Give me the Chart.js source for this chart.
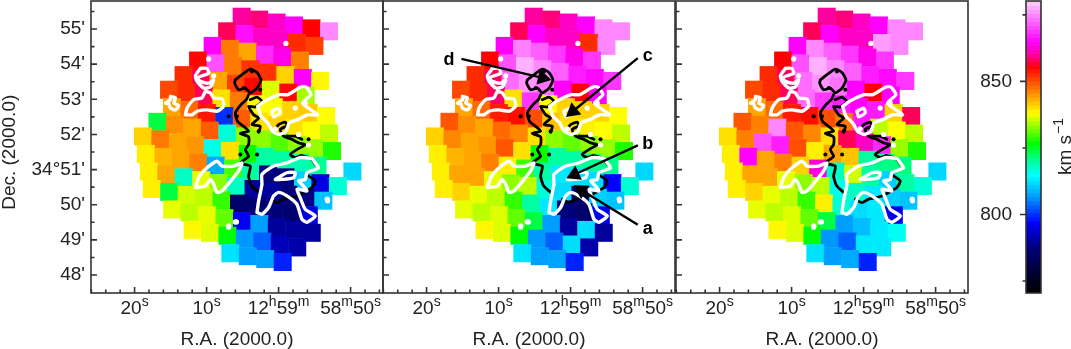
<!DOCTYPE html>
<html>
<head>
<meta charset="utf-8">
<script src="https://cdn.jsdelivr.net/npm/chart.js@4"></script>
<style>
html, body { margin: 0; padding: 0; background: #fff; overflow: hidden; }
canvas { position: absolute; top: 0; }
</style>
</head>
<body>
<canvas id="panel1" style="left:0px"></canvas>
<canvas id="panel2" style="left:375px"></canvas>
<canvas id="panel3" style="left:668px"></canvas>
<canvas id="colorbar" style="left:972px"></canvas>
<script>
var n = null;

// velocity maps, km/s. rows follow the tilted grid, columns run from -7 to 5
var gridColumnStart = -7;
var velocityMap1 = [
    [n,n,n,n,n,n,n,860,859,862,865,855.5,875],
    [n,n,n,n,n,n,858,866,862,862,852.5,851,n],
    [n,n,n,n,n,865,847,844,868,864,846.5,n,n],
    [n,n,n,n,855,871,847,852,852,841,865,838.5,n],
    [n,n,n,852.5,858,844,851,855,836.5,855,834,n,n],
    [n,n,850.5,852.5,858,840,847,838,838,841,841.5,838,n],
    [n,n,844,848,854,800,849,840,841,840,838,835,n],
    [n,824,845.5,844,849,817,833,833,830.5,833,833.5,828,n],
    [841,847,844,845,816,840,827,820,820,819,820.5,n,811.5],
    [839,843,844,846.5,808,830,820,788,787,811,795,817,n],
    [839,844,818,837,833,818,790,790,787,788,810,n,n],
    [839,824,836,835,829,785,786,787,786,795,n,n,n],
    [n,837,835,837,831,796,807,790,790,790,n,n,n],
    [n,n,838.5,836.5,826.5,806.5,803,792,791,n,n,n,n],
    [n,n,n,n,812.5,807,807.5,799,n,n,n,n,n]
];
var velocityMap2 = [
    [n,n,n,n,n,n,n,860,859,862,865,875,875],
    [n,n,n,n,n,n,858,865,862,862,852.5,875,n],
    [n,n,n,n,n,865,874.5,872,869,864,869,n,n],
    [n,n,n,n,855.5,871,878,875,872,867,865.5,869,n],
    [n,n,n,852.5,858,873,876,873.5,865,855.5,865,n,n],
    [n,n,850.5,852.5,858,840,869,838,841,841,841,838,n],
    [n,n,844,848,853.5,854.5,850,842,840,839,838,835,n],
    [n,849.5,845.5,844,848,846,840,833,831,833,833.5,828,n],
    [841,846,844,845,849.5,840,827,820,820,820.5,821,n,811.5],
    [839,843,844,846.5,839,829.5,820,813,812,812,797,817,n],
    [839,844,844,837,833,835,817,812,785,811,810,n,n],
    [839,841,837,835,829,820,813,787,785,796,n,n,n],
    [n,837,835,836.5,831,824,807,790,812,790,n,n,n],
    [n,n,838.5,836.5,826.5,806.5,803,812,791,n,n,n,n],
    [n,n,n,n,812.5,807,807.5,799,n,n,n,n,n]
];
var velocityMap3 = [
    [n,n,n,n,n,n,n,860,859,862,865,875,875],
    [n,n,n,n,n,n,858,865,862,862,876.5,875,n],
    [n,n,n,n,n,865,875,872,869,864,869,n,n],
    [n,n,n,n,855.5,871,878,875,872,867,865.5,869,n],
    [n,n,n,852.5,858,873,876,873.5,865,855.5,865,n,n],
    [n,n,850.5,852.5,858,873,869,867,865,867,841,858,n],
    [n,n,844,848,853.5,854.5,850,847,867,835,838,835,n],
    [n,849.5,846.5,875,849.5,846,840,858,862,868,833.5,828,n],
    [840,846.5,871,867,850,839,844,842,820,821,821.5,n,811.5],
    [839,865,844,846.5,841,863,818,836,820,811,820,817,n],
    [839,844,844,837,833,835,816,818,813,811,810,n,n],
    [839,841,837,835,829,839,817,812,813,796,n,n,n],
    [n,837,835,836.5,831,824,807,809.5,813,815.5,n,n,n],
    [n,n,838.5,836.5,826.5,806.5,803,813,813,n,n,n,n],
    [n,n,n,n,812.5,807,808,799,n,n,n,n,n]
];

// contours as [RA seconds from 12h59m, Dec arcmin from 34d]
var whiteContours = [
    [[10.86,53.88],[9.94,53.88],[9.71,53.74],[10.63,53.67],[11.32,53.60],[10.86,53.51],[9.71,53.46],[9.01,53.55],[9.48,53.35],[10.40,53.32],[11.32,53.51],[11.55,53.67],[10.86,53.88]],
    [[15.02,53.08],[14.33,53.04],[14.56,52.89],[13.87,52.82],[14.33,52.70],[15.02,52.75],[15.25,52.87],[15.72,52.89],[15.02,52.99],[15.02,53.08]],
    [[12.94,52.56],[12.71,52.75],[11.79,52.99],[10.63,53.04],[10.17,53.22],[9.48,53.18],[9.01,53.04],[7.86,53.01],[7.63,52.80],[8.55,52.66],[9.94,52.70],[11.32,52.66],[12.02,52.56],[12.94,52.56]],
    [[2.91,52.80],[1.99,52.94],[-0.09,53.13],[-1.25,53.13],[-1.71,53.18],[-3.10,53.35],[-3.79,53.35],[-4.49,53.13],[-3.33,52.89],[-5.41,52.56],[-4.02,52.56],[-2.64,52.42],[-1.48,52.33],[-1.02,52.09],[-0.09,52.00],[0.83,52.09],[1.52,52.33],[2.45,52.52],[2.91,52.80]],
    [[0.92,52.66],[0.0,52.75],[-0.23,52.61],[0.69,52.50],[0.92,52.66]],
    [[11.55,50.49],[11.09,50.77],[10.17,51.01],[8.55,51.24],[7.86,51.10],[6.24,51.10],[5.08,51.19],[5.55,50.96],[6.47,50.72],[7.86,50.39],[8.55,50.35],[9.01,50.58],[9.48,50.72],[10.17,50.53],[11.55,50.49]],
    [[3.00,49.78],[2.77,50.11],[2.31,50.58],[2.31,50.86],[0.69,51.10],[-1.16,51.19],[-3.01,51.34],[-4.63,51.31],[-5.09,51.19],[-5.55,51.05],[-3.93,50.91],[-3.70,50.72],[-2.78,50.68],[-3.47,50.53],[-3.93,50.39],[-2.55,50.44],[-3.01,50.20],[-3.70,49.87],[-5.09,49.68],[-3.93,49.50],[-3.24,49.59],[-2.55,50.01],[-1.16,50.25],[0.0,50.35],[0.69,50.25],[1.39,49.92],[2.31,49.73],[3.00,49.78]],
    [[0.46,50.72],[-1.16,50.91],[-2.31,50.91],[-2.08,50.77],[-0.46,50.72],[0.46,50.72]]
];
var whiteSpecks = [[9.71,54.15],[9.01,53.67],[-1.02,54.59],[-2.31,52.75],[-3.70,52.89],[-2.78,52.0],[-4.16,51.70],[6.93,49.40],[6.93,49.36],[6.01,49.51],[5.85,49.51],[-6.80,50.11],[-6.75,50.16],[0.46,52.16]];
var blackContours = [
    [[6.01,53.55],[5.08,53.70],[3.93,53.86],[3.00,53.76],[2.45,53.55],[3.00,53.32],[3.93,53.18],[4.62,53.32],[5.55,53.27],[6.10,53.46],[6.01,53.55]],
    [[4.16,53.13],[4.48,52.99],[5.22,52.85],[6.01,52.61],[5.68,52.37],[4.85,52.23],[4.16,52.09],[5.31,52.03],[4.16,51.93],[4.16,51.71],[4.62,51.57],[4.16,51.38],[5.31,51.19],[3.93,51.10],[4.16,50.82],[3.93,50.63],[3.70,50.53],[2.77,50.35]],
    [[3.93,52.99],[3.00,53.06],[2.31,52.94],[3.23,52.78],[4.16,52.80],[3.47,52.56],[2.77,52.47],[3.70,52.28],[2.54,52.23],[2.77,52.06]],
    [[0.69,52.09],[0.0,52.28],[-0.93,52.35],[-1.16,52.25],[-0.23,52.14],[-0.70,51.95],[-1.85,51.86],[-2.78,51.76],[-3.70,51.71],[-2.55,51.57],[-1.62,51.43],[-2.31,51.34],[-3.24,51.40],[-4.62,51.29],[-5.09,51.15]],
    [[-1.16,51.95],[-2.31,51.95],[-3.24,51.86]],
    [[1.15,50.16],[0.23,50.06],[-0.70,50.16],[-2.55,50.25],[-4.62,50.49],[-5.09,50.68],[-4.16,50.82]]
];
var blackSpecks = [[6.93,52.52],[5.78,52.52],[4.85,53.32],[2.54,53.27],[3.70,53.79],[5.31,51.43],[2.99,51.43],[2.77,52.09],[-4.16,51.86]];

// arrows of the middle panel
var arrowLabels = ["a", "b", "c", "d"];
var arrowTailRa = [-9.33, -9.33, -9.33, 15.16];
var arrowTailDec = [49.43, 51.69, 54.17, 54.15];
var arrowTipRa = [-1.49, -0.55, -0.32, 3.88];
var arrowTipDec = [50.42, 50.86, 52.66, 53.61];
var arrowLabelRa = [-10.7, -10.7, -10.7, 16.88];
var arrowLabelDec = [49.30, 51.73, 54.22, 54.12];

// axes, ^x means x is raised
var raTickValues = [26,24,22,20,18,16,14,12,10,8,6,4,2,0,-2,-4,-6,-8,-10,-12,-14];
var raMajorValues = [20, 10, 0, -10];
var raMajorLabels = ["20^s", "10^s", "12^h59^m", "58^m50^s"];
var decTickValues = [48,48.5,49,49.5,50,50.5,51,51.5,52,52.5,53,53.5,54,54.5,55,55.5];
var decMajorValues = [48,49,50,51,52,53,54,55];
var decMajorLabels = ["48'", "49'", "50'", "34°51'", "52'", "53'", "54'", "55'"];
var barTickValues = [775, 800, 825, 850, 875];
var barMajorValues = [800, 850];

// colour table of the wedge
var cmapValues = [770.5, 780, 788, 797, 806.6, 814.7, 820, 826.7, 838, 846.5, 855.5, 860, 865, 875.7, 880.2];
var cmapColors = [[0,0,0],[0,0,64],[0,0,128],[0,0,255],[0,153,255],[0,255,255],[0,255,160],[0,255,0],[255,255,0],[255,128,0],[255,0,0],[255,0,160],[255,0,255],[255,144,255],[255,208,255]];

var raMin = -14.5, raMax = 26.05;
var decMin = 47.488, decMax = 55.797;
var gridRa0 = 5.125, gridDec0 = 55.35;
var gridRaStepI = -2.424, gridDecStepI = -0.0831;
var gridRaStepJ = -0.407, gridDecStepJ = -0.4986;
var textColor = "#222";
var axisFont = { family: "'Liberation Sans'", size: 19, lineHeight: 1 };

function velocityColor(v) {
    var k = 0;
    while (k < cmapValues.length - 2 && v > cmapValues[k + 1]) k++;
    var f = (v - cmapValues[k]) / (cmapValues[k + 1] - cmapValues[k]);
    f = Math.max(0, Math.min(1, f));
    var a = cmapColors[k], b = cmapColors[k + 1];
    return "rgb(" + Math.round(a[0] + (b[0] - a[0]) * f) + "," + Math.round(a[1] + (b[1] - a[1]) * f) + "," + Math.round(a[2] + (b[2] - a[2]) * f) + ")";
}

function mapCells(map) {
    var cells = [];
    map.forEach(function (row, j) {
        row.forEach(function (v, c) {
            if (v === null) return;
            var i = c + gridColumnStart;
            cells.push({
                x: gridRa0 + gridRaStepI * i + gridRaStepJ * j,
                y: gridDec0 + gridDecStepI * i + gridDecStepJ * j,
                v: v
            });
        });
    });
    return cells;
}

function toPoints(list) {
    return list.map(function (p) { return { x: p[0], y: p[1] }; });
}

// chart area has to stay where the original box is, labels may overhang
function clearScalePadding(s) {
    s.paddingLeft = 0;
    s.paddingRight = 0;
    s.paddingTop = 0;
    s.paddingBottom = 0;
}

// box and inward ticks, the way the original plot has them
var framePlugin = {
    id: "frame",
    afterDatasetsDraw: function (chart) {
        var ctx = chart.ctx, a = chart.chartArea;
        ctx.save();
        ctx.strokeStyle = "#333";
        ctx.lineWidth = 1.6;
        ctx.strokeRect(a.left, a.top, a.right - a.left, a.bottom - a.top);
        ctx.beginPath();
        var bar = chart.canvas.id === "colorbar";
        chart.scales.y.ticks.forEach(function (t) {
            var py = chart.scales.y.getPixelForValue(t.value);
            var major = bar ? barMajorValues.indexOf(t.value) >= 0 : decMajorValues.indexOf(t.value) >= 0;
            var len = major ? 6 : 3.5;
            ctx.moveTo(a.left, py);
            ctx.lineTo(a.left + (bar ? -len : len), py);
        });
        if (!bar) {
            chart.scales.x.ticks.forEach(function (t) {
                var px = chart.scales.x.getPixelForValue(t.value);
                ctx.moveTo(px, a.bottom);
                ctx.lineTo(px, a.bottom - (raMajorValues.indexOf(t.value) >= 0 ? 6 : 3.5));
            });
        }
        ctx.stroke();
        ctx.restore();
    }
};

// RA labels need raised letters, which a tick label can't do
var raLabelPlugin = {
    id: "raLabels",
    afterDraw: function (chart) {
        if (chart.canvas.id === "colorbar") return;
        var ctx = chart.ctx;
        ctx.save();
        ctx.fillStyle = textColor;
        ctx.textBaseline = "alphabetic";
        ctx.textAlign = "left";
        raMajorValues.forEach(function (v, k) {
            var parts = [], text = raMajorLabels[k], width = 0;
            for (var p = 0; p < text.length; p++) {
                if (text[p] === "^") {
                    parts.push({ s: text[p + 1], up: true });
                    p++;
                } else if (parts.length && !parts[parts.length - 1].up) {
                    parts[parts.length - 1].s += text[p];
                } else {
                    parts.push({ s: text[p], up: false });
                }
            }
            parts.forEach(function (part) {
                ctx.font = (part.up ? 14 : 19) + "px 'Liberation Sans'";
                width += ctx.measureText(part.s).width;
            });
            var x = chart.scales.x.getPixelForValue(v) - width / 2;
            parts.forEach(function (part) {
                ctx.font = (part.up ? 14 : 19) + "px 'Liberation Sans'";
                ctx.fillText(part.s, x, part.up ? 306 : 314);
                x += ctx.measureText(part.s).width;
            });
        });
        ctx.restore();
    }
};

var arrowLabelPlugin = {
    id: "arrowLabels",
    afterDatasetsDraw: function (chart) {
        if (chart.canvas.id !== "panel2") return;
        var ctx = chart.ctx;
        ctx.save();
        ctx.fillStyle = "#000";
        ctx.font = "bold 18px 'Liberation Sans'";
        ctx.textAlign = "center";
        ctx.textBaseline = "middle";
        arrowLabels.forEach(function (s, k) {
            ctx.fillText(s, chart.scales.x.getPixelForValue(arrowLabelRa[k]), chart.scales.y.getPixelForValue(arrowLabelDec[k]));
        });
        ctx.restore();
    }
};

var unitLabelPlugin = {
    id: "unitLabel",
    afterDraw: function (chart) {
        if (chart.canvas.id !== "colorbar") return;
        var ctx = chart.ctx;
        ctx.save();
        ctx.translate(1071 - 972, 175);
        ctx.rotate(-Math.PI / 2);
        ctx.fillStyle = textColor;
        ctx.textAlign = "left";
        ctx.textBaseline = "alphabetic";
        ctx.font = "19px 'Liberation Sans'";
        ctx.fillText("km s", 0, 0);
        var w = ctx.measureText("km s").width;
        ctx.font = "14px 'Liberation Sans'";
        ctx.fillText("−1", w + 1, -8);
        ctx.restore();
    }
};

function arrowAngle(ctx) {
    var pts = ctx.dataset.data;
    var sx = ctx.chart.scales.x, sy = ctx.chart.scales.y;
    var dx = sx.getPixelForValue(pts[1].x) - sx.getPixelForValue(pts[0].x);
    var dy = sy.getPixelForValue(pts[1].y) - sy.getPixelForValue(pts[0].y);
    return Math.atan2(dx, -dy) * 180 / Math.PI;
}

function displayPanel(canvasID, map, width, leftSpace, isFirst, withArrows) {
    var canvas = document.getElementById(canvasID);
    canvas.width = width;
    canvas.height = 349;
    var datasets = [];

    if (withArrows) {
        arrowLabels.forEach(function (s, k) {
            datasets.push({
                data: [{ x: arrowTailRa[k], y: arrowTailDec[k] }, { x: arrowTipRa[k], y: arrowTipDec[k] }],
                showLine: true,
                borderColor: "#000",
                borderWidth: 2.4,
                pointRadius: [0, 9],
                pointStyle: "triangle",
                pointRotation: arrowAngle,
                pointBackgroundColor: "#000",
                pointBorderWidth: 0
            });
        });
    }
    datasets.push({ data: toPoints(whiteSpecks), pointRadius: 2.6, pointBackgroundColor: "#fff", pointBorderWidth: 0 });
    whiteContours.forEach(function (c) {
        datasets.push({ data: toPoints(c), showLine: true, borderColor: "#fff", borderWidth: 3.4, tension: 0.2, pointRadius: 0, borderJoinStyle: "round", borderCapStyle: "round" });
    });
    datasets.push({ data: toPoints(blackSpecks), pointRadius: 2, pointBackgroundColor: "#000", pointBorderWidth: 0 });
    blackContours.forEach(function (c) {
        datasets.push({ data: toPoints(c), showLine: true, borderColor: "#000", borderWidth: 2.8, tension: 0.2, pointRadius: 0, borderJoinStyle: "round", borderCapStyle: "round" });
    });
    // side of a rect point is radius * sqrt(2)
    datasets.push({
        data: mapCells(map),
        pointStyle: "rect",
        pointRadius: 18 / Math.SQRT2,
        pointBorderWidth: 0,
        pointBackgroundColor: function (ctx) {
            return ctx.raw ? velocityColor(ctx.raw.v) : "#fff";
        }
    });

    return new Chart(canvas, {
        type: "scatter",
        data: { datasets: datasets },
        plugins: [framePlugin, arrowLabelPlugin, raLabelPlugin],
        options: {
            responsive: false,
            animation: false,
            layout: { autoPadding: false, padding: { top: 1, right: width - leftSpace - 292, bottom: 0, left: 0 } },
            plugins: { legend: { display: false }, tooltip: { enabled: false } },
            scales: {
                x: {
                    type: "linear",
                    reverse: true,
                    min: raMin,
                    max: raMax,
                    afterBuildTicks: function (s) {
                        s.ticks = raTickValues.map(function (v) { return { value: v }; });
                    },
                    afterFit: function (s) { s.height = 56; clearScalePadding(s); },
                    grid: { display: false, drawTicks: false },
                    border: { display: false },
                    title: { display: true, text: "R.A. (2000.0)", color: textColor, font: axisFont, padding: 0 },
                    ticks: { display: false }
                },
                y: {
                    type: "linear",
                    min: decMin,
                    max: decMax,
                    afterBuildTicks: function (s) {
                        s.ticks = decTickValues.map(function (v) { return { value: v }; });
                    },
                    afterFit: function (s) { s.width = leftSpace; clearScalePadding(s); },
                    grid: { display: false, drawTicks: false },
                    border: { display: false },
                    title: { display: isFirst, text: "Dec. (2000.0)  ", color: textColor, font: axisFont, padding: 0 },
                    ticks: {
                        display: isFirst,
                        autoSkip: false,
                        padding: 6,
                        color: textColor,
                        font: axisFont,
                        callback: function (v) {
                            var k = decMajorValues.indexOf(v);
                            return k >= 0 ? decMajorLabels[k] : "";
                        }
                    }
                }
            }
        }
    });
}

function displayColorbar() {
    var canvas = document.getElementById("colorbar");
    canvas.width = 99;
    canvas.height = 349;
    var bands = [];
    // wedge steps are about 1.5 km/s in the original
    for (var v = 770.5; v < 880.2; v += 1.5) {
        bands.push({ x: 0, y: [v, v + 1.5] });
    }
    return new Chart(canvas, {
        type: "bar",
        data: {
            datasets: [{
                data: bands,
                barThickness: 15,
                backgroundColor: bands.map(function (b) { return velocityColor(b.y[0] + 0.75); })
            }]
        },
        plugins: [framePlugin, unitLabelPlugin],
        options: {
            responsive: false,
            animation: false,
            layout: { padding: { top: 1, right: 30, bottom: 56, left: 0 } },
            plugins: { legend: { display: false }, tooltip: { enabled: false } },
            scales: {
                x: { type: "linear", min: -1, max: 1, display: false },
                y: {
                    min: 770.5,
                    max: 880.2,
                    afterBuildTicks: function (s) {
                        s.ticks = barTickValues.map(function (t) { return { value: t }; });
                    },
                    afterFit: function (s) { s.width = 54; clearScalePadding(s); },
                    grid: { display: false, drawTicks: false },
                    border: { display: false },
                    ticks: {
                        autoSkip: false,
                        padding: 14,
                        color: textColor,
                        font: axisFont,
                        callback: function (t) {
                            return barMajorValues.indexOf(t) >= 0 ? String(t) : "";
                        }
                    }
                }
            }
        }
    });
}

displayPanel("panel1", velocityMap1, 400, 91, true, false);
displayPanel("panel2", velocityMap2, 310, 8, false, true);
displayPanel("panel3", velocityMap3, 320, 8, false, false);
displayColorbar();
</script>
</body>
</html>
